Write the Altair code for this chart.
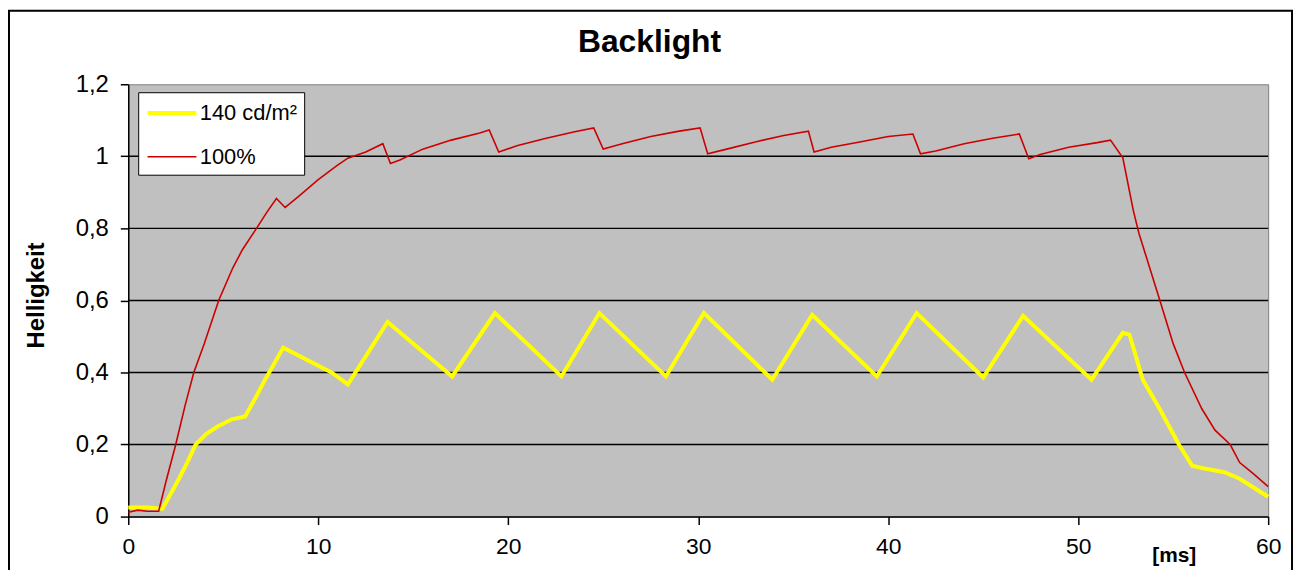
import altair as alt
import pandas as pd

# ---- data ----
series_names = ["140 cd/m²", "100%"]

red_t = [0, 0.5, 1.0, 1.6, 2.0, 2.5, 3.0, 3.45, 4.0, 4.76, 5.5, 6.0, 6.75, 7.3, 7.8, 8.26,
         9.0, 10.0, 11.0, 11.56, 12.5, 13.4, 13.8, 14.3, 15.5, 17.0, 18.5, 19.0, 19.5, 20.5,
         22.0, 23.5, 24.5, 25.0, 26.0, 27.5, 29.0, 30.1, 30.5, 31.5, 33.0, 34.5, 35.8, 36.1,
         37.0, 38.5, 40.0, 41.3, 41.7, 42.5, 44.0, 45.5, 46.9, 47.4, 48.0, 49.5, 51.0, 51.7,
         52.35, 52.9, 53.2, 54.3, 55.0, 55.6, 56.5, 57.2, 58.0, 58.5, 59.2, 60.0]
red_v = [0.012, 0.018, 0.015, 0.015, 0.1, 0.2, 0.31, 0.4, 0.48, 0.6, 0.69, 0.74, 0.8, 0.845,
         0.883, 0.858, 0.89, 0.935, 0.975, 0.995, 1.012, 1.035, 0.98, 0.99, 1.02, 1.045, 1.065,
         1.073, 1.012, 1.03, 1.05, 1.068, 1.079, 1.02, 1.035, 1.055, 1.07, 1.079, 1.007, 1.02,
         1.04, 1.058, 1.07, 1.012, 1.025, 1.04, 1.055, 1.062, 1.007, 1.015, 1.035, 1.05, 1.062,
         0.993, 1.005, 1.025, 1.038, 1.045, 0.996, 0.85, 0.786, 0.6, 0.48, 0.4, 0.3, 0.24, 0.2,
         0.15, 0.12, 0.083]

yel_t = [0, 1.0, 1.8, 2.2, 2.67, 3.1, 3.55, 4.1, 4.7, 5.45, 6.15, 6.6, 7.2, 8.16, 10.7, 11.56,
         13.65, 17.05, 19.3, 22.8, 24.8, 28.3, 30.3, 33.9, 36.0, 39.4, 41.5, 45.0, 47.1, 50.7,
         52.35, 52.7, 53.4, 54.3, 55.3, 56.0, 56.5, 57.7, 58.5, 60.0]
yel_v = [0.025, 0.025, 0.022, 0.06, 0.105, 0.15, 0.2, 0.229, 0.25, 0.27, 0.278, 0.32, 0.38,
         0.469, 0.4, 0.367, 0.54, 0.389, 0.565, 0.389, 0.565, 0.389, 0.565, 0.38, 0.56, 0.389,
         0.565, 0.386, 0.557, 0.38, 0.51, 0.505, 0.38, 0.298, 0.2, 0.141, 0.135, 0.123, 0.105,
         0.055]

x_ticks = [0, 10, 20, 30, 40, 50, 60]
y_ticks = [0, 0.2, 0.4, 0.6, 0.8, 1.0, 1.2]
grid_vals = [0.2, 0.4, 0.6, 0.8, 1.0]

FONT = "Liberation Sans"
W, H = 1147, 435

df = pd.concat([
    pd.DataFrame({"t": yel_t, "v": yel_v, "s": series_names[0], "o": 0}),
    pd.DataFrame({"t": red_t, "v": red_v, "s": series_names[1], "o": 1}),
], ignore_index=True)

xscale = alt.Scale(domain=[0, 60], nice=False, zero=False)
yscale = alt.Scale(domain=[0, 1.2], nice=False)

legend = alt.Legend(
    title=None, orient="none", legendX=10, legendY=8,
    fillColor="white", strokeColor="black", padding=7,
    symbolType="M-2.05,0H2.05", symbolSize=576, symbolOffset=13,
    labelFontSize=22, labelFont=FONT,
    labelColor="black", rowPadding=20, labelOffset=14,
)

lines = alt.Chart(df).mark_line(interpolate="linear").encode(
    x=alt.X("t:Q", scale=xscale,
            axis=alt.Axis(values=x_ticks, title="[ms]", titleFont=FONT, titleFontSize=21,
                          titleFontWeight="bold", titleColor="black", titleX=1052, titleY=39,
                          titleBaseline="middle", titleAlign="center",
                          labelFont=FONT, labelFontSize=23, labelColor="black",
                          labelPadding=11, tickSize=8, tickColor="black", domainColor="black",
                          domainWidth=1.5, tickWidth=1.5, grid=False, labelFlush=False)),
    y=alt.Y("v:Q", scale=yscale,
            axis=alt.Axis(values=y_ticks, title="Helligkeit", titleFont=FONT, titleFontSize=24,
                          titleFontWeight="bold", titleColor="black", titleAngle=270,
                          titleX=-92, titleY=212, titleAlign="center", titleBaseline="middle",
                          labelFont=FONT, labelFontSize=24, labelColor="black",
                          labelExpr="replace(format(datum.value, '.1~f'), '.', ',')",
                          labelPadding=12, tickSize=8, tickColor="black", domainColor="black",
                          domainWidth=1.5, tickWidth=1.5, grid=False)),
    color=alt.Color("s:N", scale=alt.Scale(domain=series_names, range=["#FFFF00", "#CC0000"]),
                    legend=legend),
    strokeWidth=alt.StrokeWidth("s:N", scale=alt.Scale(domain=series_names, range=[4, 1.6]),
                                legend=legend),
    order="o:Q",
)

grid = alt.Chart(pd.DataFrame({"g": grid_vals})).mark_rule(color="black", strokeWidth=1.5).encode(
    y=alt.Y("g:Q", scale=yscale)
)

frame = alt.Chart(pd.DataFrame({"a": [0]})).mark_rect(
    filled=False, stroke="black", strokeWidth=2
).encode(
    x=alt.value(-120), x2=alt.value(1171), y=alt.value(-74), y2=alt.value(600)
)

chart = alt.layer(frame, grid, lines).properties(
    width=W, height=H,
    title=alt.TitleParams("Backlight", font=FONT, fontSize=32, fontWeight="bold",
                          color="black", anchor="middle", dx=-49, dy=64, offset=14),
    autosize=alt.AutoSizeParams(type="none"),
    padding={"left": 121, "top": 75, "right": 28, "bottom": 52},
    background="white",
).configure_view(
    fill="#C0C0C0", stroke="#808080", strokeWidth=1
)

chart.save("out.html", embed_options={"renderer": "svg", "actions": False})
